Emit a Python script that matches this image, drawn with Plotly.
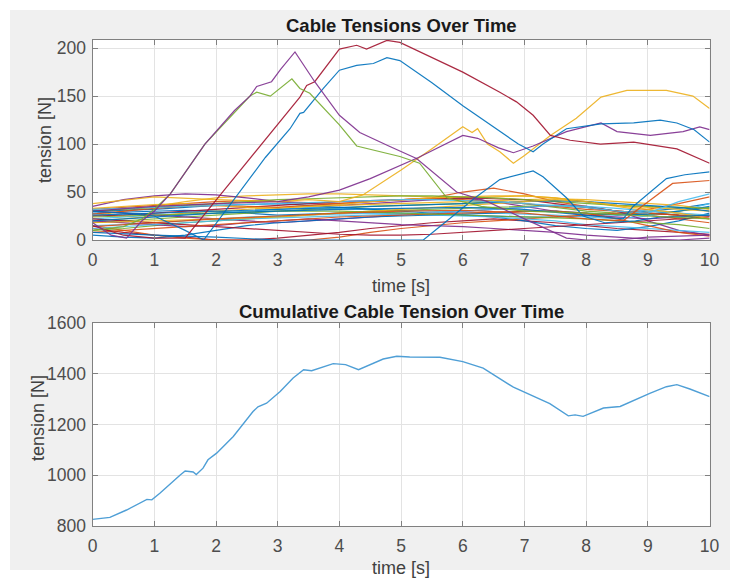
import plotly.graph_objects as go

W, H = 732, 580

# ---------------- data ----------------
t_band = [0, 0.5, 1, 1.5, 2, 2.5, 3, 3.5, 4, 4.5, 5, 5.5, 6, 6.5, 7, 7.5, 8, 8.5, 9, 9.5, 10]

band_series = [
    ("#0072BD", [28,29,30,31,30,28,26,27,28,29,28,27,26,25,24,24,25,27,30,33,38]),
    ("#D95319", [32,34,36,38,40,41,40,39,38,40,42,44,50,54,48,40,35,30,26,22,18]),
    ("#EDB120", [25,30,35,40,44,46,47,48,48,47,46,45,44,45,46,44,40,35,30,28,25]),
    ("#7E2F8E", [35,42,46,48,47,44,40,38,36,38,40,42,44,40,35,30,26,24,22,24,26]),
    ("#77AC30", [18,20,22,24,26,28,30,32,33,35,36,37,38,40,38,34,30,28,26,30,34]),
    ("#4DBEEE", [22,24,26,27,28,30,32,34,33,32,31,30,29,28,27,26,24,22,25,30,38]),
    ("#A2142F", [12,8,5,3,0,0,2,5,8,12,15,18,20,22,20,18,15,12,10,8,6]),
    ("#0072BD", [30,31,32,34,36,37,38,36,34,32,30,28,26,24,20,15,12,10,14,20,28]),
    ("#D95319", [15,10,5,2,0,0,0,0,3,8,12,15,18,20,22,24,26,28,32,38,45]),
    ("#EDB120", [20,22,25,28,30,32,34,35,36,37,38,39,40,41,42,43,42,40,38,36,32]),
    ("#7E2F8E", [30,28,26,24,22,20,18,20,22,24,26,28,30,32,34,36,35,30,20,10,5]),
    ("#77AC30", [10,12,15,18,20,22,24,26,28,30,31,32,33,34,35,36,34,30,28,26,22]),
    ("#4DBEEE", [15,16,18,20,22,24,25,26,27,28,27,26,25,24,22,20,16,14,12,10,8]),
    ("#A2142F", [25,26,28,30,32,34,36,38,40,41,42,43,44,43,42,38,34,30,28,26,25]),
    ("#0072BD", [5,3,2,5,10,15,18,20,22,24,25,26,27,28,30,30,28,26,27,30,35]),
    ("#D95319", [27,30,33,35,36,35,34,36,38,40,42,43,42,40,38,35,32,30,28,26,25]),
    ("#EDB120", [33,35,37,38,36,34,33,35,37,40,42,44,45,46,46,44,40,36,34,32,30]),
    ("#7E2F8E", [20,18,16,14,15,18,20,22,20,18,16,15,14,12,10,8,5,3,1,0,2]),
    ("#77AC30", [30,32,34,36,38,40,42,43,44,45,46,46,45,44,42,40,38,36,35,34,33]),
    ("#4DBEEE", [12,14,16,18,20,22,23,24,25,26,27,28,30,32,34,36,35,33,30,28,26]),
    ("#A2142F", [22,20,18,16,14,12,10,8,6,5,5,6,8,10,12,14,16,18,20,22,24]),
    ("#0072BD", [26,27,28,29,30,31,32,33,34,35,36,37,38,39,40,41,40,38,36,34,30]),
    ("#D95319", [8,10,12,14,16,18,20,22,24,25,26,27,28,29,30,30,28,22,15,8,4]),
    ("#EDB120", [18,19,20,21,22,23,24,26,28,30,32,34,36,38,40,42,40,36,32,28,22]),
    ("#77AC30", [24,25,26,27,28,29,30,30,30,29,28,27,26,25,24,23,22,20,18,16,12]),
    ("#4DBEEE", [32,33,34,35,36,37,38,39,40,41,42,42,41,40,38,36,34,30,28,40,48]),
]

purple1_t = [0, 0.3, 0.55, 0.8, 1.0, 1.26, 1.82, 2.3, 2.55, 2.66, 2.9, 3.05, 3.28, 3.6, 4.0, 4.33, 4.8, 5.25, 5.9, 6.4, 7.0, 7.68, 8.0, 8.5, 9.0, 10.0]
purple1_v = [18, 5, 2, 20, 30, 48, 100, 135, 150, 160, 165, 178, 196, 165, 130, 112, 98, 85, 50, 40, 22, 2, 0, 0, 3, 5]

green1_t = [0, 0.5, 0.8, 1.0, 1.26, 1.82, 2.55, 2.66, 2.88, 3.23, 3.36, 3.52, 4.0, 4.28, 4.98, 5.3, 5.74, 6.3, 7.0, 8.0, 9.0, 10.0]
green1_v = [10, 14, 22, 32, 48, 100, 150, 154, 150, 168, 158, 153, 120, 98, 87, 80, 44, 35, 30, 28, 25, 22]

crimson1_t = [0, 0.5, 1.0, 1.5, 2.07, 2.6, 3.2, 3.36, 3.47, 3.6, 4.0, 4.28, 4.44, 4.77, 4.98, 5.5, 6.0, 6.6, 6.87, 7.14, 7.42, 7.74, 8.23, 8.77, 9.47, 10.0]
crimson1_v = [15, 5, 2, 2, 47, 89, 137, 149, 161, 165, 199, 203, 199, 208, 206, 190, 175, 154, 144, 130, 109, 104, 100, 102, 95, 80]

blue1_t = [0, 0.5, 1.0, 1.5, 1.8, 2.34, 2.8, 3.2, 3.36, 3.42, 3.74, 4.0, 4.28, 4.55, 4.77, 4.98, 5.5, 6.0, 6.6, 6.9, 7.14, 7.3, 7.68, 8.24, 8.77, 9.2, 9.47, 9.75, 10.0]
blue1_v = [30, 28, 25, 10, 0, 47, 86, 116, 132, 133, 158, 177, 182, 184, 190, 187, 164, 140, 113, 100, 92, 100, 116, 121, 122, 125, 122, 115, 102]

yellow2_t = [0, 1, 2, 3, 3.5, 4.0, 4.38, 5.0, 5.5, 6.0, 6.15, 6.24, 6.4, 6.6, 6.82, 7.0, 7.42, 7.84, 8.24, 8.66, 9.3, 9.73, 10.0]
yellow2_v = [38, 45, 42, 40, 42, 40, 47, 73, 95, 118, 112, 116, 100, 92, 80, 88, 109, 127, 149, 156, 156, 150, 137]

purple2_t = [0, 1, 2, 3, 3.5, 4.0, 4.5, 5.28, 6.0, 6.24, 6.58, 6.82, 7.14, 7.68, 8.24, 8.5, 9.04, 9.57, 9.84, 10.0]
purple2_v = [30, 35, 38, 40, 45, 52, 64, 86, 109, 106, 96, 91, 98, 113, 122, 113, 109, 113, 118, 115]

blue3_t = [0, 1, 2, 3, 4, 5.0, 5.36, 5.8, 6.2, 6.6, 7.0, 7.14, 7.3, 7.68, 7.95, 8.3, 8.8, 9.2, 9.6, 10.0]
blue3_v = [8, 5, 3, 0, 0, 0, 0, 23, 44, 63, 70, 72, 66, 44, 25, 18, 20, 24, 25, 26]

blue4_t = [0, 1, 2, 3, 4, 5, 6, 7, 8, 8.6, 8.76, 9.3, 9.6, 10.0]
blue4_v = [20, 24, 28, 30, 32, 33, 34, 32, 26, 22, 35, 64, 68, 71]

orange4_t = [0, 1, 2, 3, 4, 5, 6, 7, 8, 8.6, 8.9, 9.4, 10.0]
orange4_v = [14, 18, 22, 25, 28, 30, 31, 28, 22, 20, 35, 59, 62]

big_series = [
    ("#0072BD", blue4_t, blue4_v),
    ("#D95319", orange4_t, orange4_v),
    ("#0072BD", blue3_t, blue3_v),
    ("#EDB120", yellow2_t, yellow2_v),
    ("#7E2F8E", purple2_t, purple2_v),
    ("#0072BD", blue1_t, blue1_v),
    ("#A2142F", crimson1_t, crimson1_v),
    ("#77AC30", green1_t, green1_v),
    ("#7E2F8E", purple1_t, purple1_v),
]

cum_t = [0.0, 0.28, 0.55, 0.77, 0.88, 0.96, 1.09, 1.42, 1.5, 1.63, 1.68, 1.79, 1.87, 2.01, 2.28, 2.6, 2.68, 2.82, 3.04, 3.25, 3.42, 3.55, 3.9, 4.1, 4.31, 4.71, 4.93, 5.14, 5.63, 6.0, 6.33, 6.82, 7.14, 7.41, 7.71, 7.82, 7.95, 8.28, 8.55, 9.03, 9.3, 9.47, 9.68, 10.0]
cum_v = [826, 834, 863, 892, 905, 903, 929, 1001, 1017, 1013, 1003, 1028, 1061, 1087, 1153, 1251, 1270, 1284, 1330, 1383, 1416, 1412, 1440, 1436, 1416, 1458, 1469, 1466, 1465, 1448, 1422, 1347, 1310, 1282, 1234, 1238, 1232, 1265, 1271, 1323, 1349, 1357, 1340, 1310]

x_ticks = [0, 1, 2, 3, 4, 5, 6, 7, 8, 9, 10]
y1_ticks = [0, 50, 100, 150, 200]
y2_ticks = [800, 1000, 1200, 1400, 1600]

# ---------------- figure ----------------
fig = go.Figure()
LW = 1.2
for col, vals in band_series:
    fig.add_trace(go.Scatter(x=t_band, y=vals, mode="lines", line=dict(color=col, width=LW),
                             opacity=0.9, xaxis="x", yaxis="y", showlegend=False, hoverinfo="skip"))
for col, tt, vv in big_series:
    fig.add_trace(go.Scatter(x=tt, y=vv, mode="lines", line=dict(color=col, width=LW),
                             opacity=0.9, xaxis="x", yaxis="y", showlegend=False, hoverinfo="skip"))
fig.add_trace(go.Scatter(x=cum_t, y=cum_v, mode="lines", line=dict(color="#4f9fd6", width=1.4),
                         xaxis="x2", yaxis="y2", showlegend=False, hoverinfo="skip"))

def px_x(p):
    return p / W

def px_y(p):
    return 1 - p / H

xdom = [px_x(92.6), px_x(709.6)]
tickfont = dict(family="Liberation Sans, Arial, sans-serif", size=17.5, color="#4d4d4d")
axcommon = dict(showline=True, linecolor="#808080", linewidth=1.2, mirror="ticks",
                ticks="inside", ticklen=5, tickcolor="#808080", tickwidth=1,
                showgrid=True, gridcolor="#e3e3e3", gridwidth=1, zeroline=False,
                tickfont=tickfont, fixedrange=True, automargin=False)

# white outer border strips (page is gray #f0f0f0 inside a 10px white frame)
border = [
    (0, W, 0, 10), (0, W, 570, H), (0, 10, 0, H), (730, W, 0, H),
]
shapes = [dict(type="rect", xref="paper", yref="paper", x0=px_x(a), x1=px_x(b), y0=px_y(d), y1=px_y(c),
               fillcolor="white", line=dict(width=0), layer="below") for a, b, c, d in border]
# white plot-area backgrounds (under gridlines)
for xr, yr in (("x domain", "y domain"), ("x2 domain", "y2 domain")):
    shapes.append(dict(type="rect", xref=xr, yref=yr, x0=0, x1=1, y0=0, y1=1,
                       fillcolor="white", line=dict(width=0), layer="below"))

fig.update_layout(
    width=W, height=H,
    margin=dict(l=0, r=0, t=0, b=0, autoexpand=False),
    paper_bgcolor="#f0f0f0", plot_bgcolor="white",
    xaxis=dict(domain=xdom, anchor="y", range=[0, 10], tickvals=x_ticks, ticklabelstandoff=4, **axcommon),
    yaxis=dict(domain=[px_y(240), px_y(39.5)], anchor="x", range=[0, 209], tickvals=y1_ticks, ticklabelstandoff=2, **axcommon),
    xaxis2=dict(domain=xdom, anchor="y2", range=[0, 10], tickvals=x_ticks, ticklabelstandoff=4, **axcommon),
    yaxis2=dict(domain=[px_y(526), px_y(323)], anchor="x2", range=[800, 1600], tickvals=y2_ticks, ticklabelstandoff=2, **axcommon),
    shapes=shapes,
)

titlefont = dict(family="Liberation Sans, Arial, sans-serif", size=18.5, color="#1a1a1a")
labfont = dict(family="Liberation Sans, Arial, sans-serif", size=18, color="#404040")
ann = [
    dict(text="<b>Cable Tensions Over Time</b>", x=px_x(401), y=px_y(26), font=titlefont),
    dict(text="<b>Cumulative Cable Tension Over Time</b>", x=px_x(401), y=px_y(311), font=titlefont),
    dict(text="time [s]", x=px_x(401), y=px_y(286), font=labfont),
    dict(text="time [s]", x=px_x(401), y=px_y(568), font=labfont),
    dict(text="tension [N]", x=px_x(45), y=px_y(140), font=labfont, textangle=-90),
    dict(text="tension [N]", x=px_x(38), y=px_y(418), font=labfont, textangle=-90),
]
for a in ann:
    a.update(xref="paper", yref="paper", showarrow=False, xanchor="center", yanchor="middle")
fig.update_layout(annotations=ann)

fig.write_html("out.html", config={"displayModeBar": False},
               post_script="document.body.style.margin='0px';document.body.style.overflow='hidden';")
